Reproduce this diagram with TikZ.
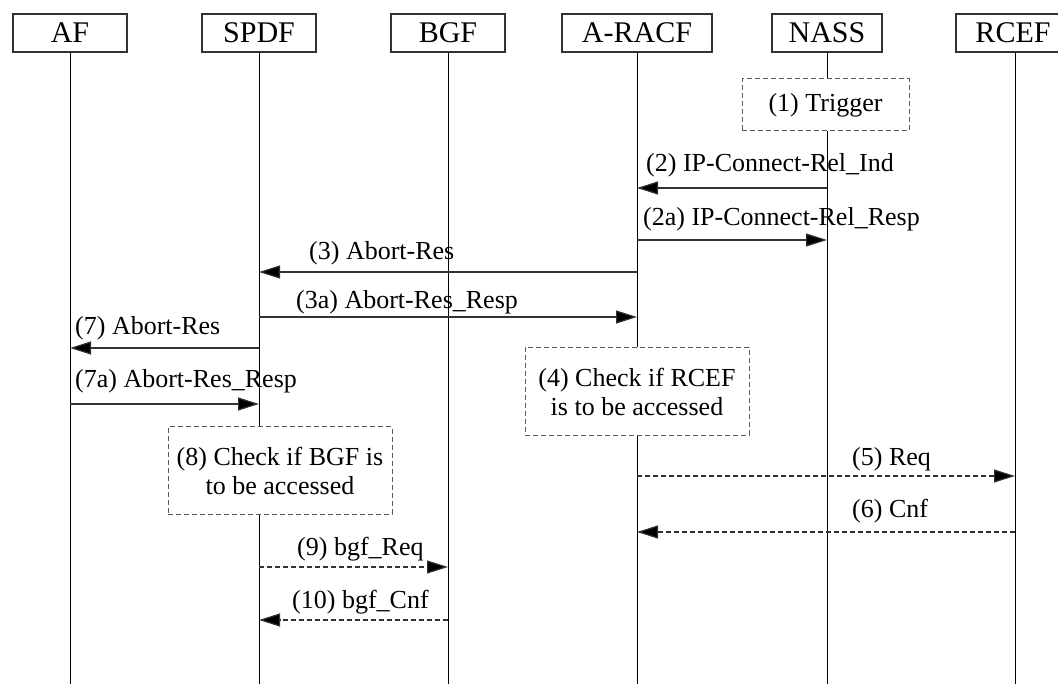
\documentclass[tikz,border=0pt]{standalone}
\usepackage{fontspec}
\setmainfont{Liberation Serif}
\usetikzlibrary{arrows.meta, positioning}
\definecolor{linegray}{RGB}{50, 50, 50}
\definecolor{boxgray}{RGB}{90, 90, 90}

\begin{document}
\begin{tikzpicture}[x=1pt, y=-1pt,
    hdr/.style={rectangle, draw=linegray, line width=1.2pt, minimum width=114pt, minimum height=38pt, inner sep=0pt, font=\fontsize{30}{32}\selectfont},
    note/.style={rectangle, draw=boxgray, dash pattern=on 5pt off 3pt, line width=1pt, fill=white, inner sep=0pt, align=center, font=\fontsize{26}{29}\selectfont},
    life/.style={draw=black, line width=1pt},
    msg/.style={draw=linegray, line width=1.2pt, -{Triangle[length=21pt, width=13pt, fill=black]}},
    dmsg/.style={msg, dash pattern=on 5pt off 3pt},
    lbl/.style={inner sep=0pt, anchor=base west, font=\fontsize{26}{29}\selectfont}]
    \useasboundingbox (0,0) rectangle (1058,684);
    \clip (0,0) rectangle (1058,684);

    % entities
    \node[hdr] (AF) at (70,33) {AF};
    \node[hdr] (SPDF) at (259,33) {SPDF};
    \node[hdr] (BGF) at (448,33) {BGF};
    \node[hdr, minimum width=150pt] (ARACF) at (637,33) {A-RACF};
    \node[hdr, minimum width=110pt] (NASS) at (827,33) {NASS};
    \node[hdr] (RCEF) at (1013,33) {RCEF};

    % lifelines
    \foreach \n in {AF, SPDF, BGF, ARACF, NASS} {
        \coordinate (\n-end) at (\n |- 0,690);
        \draw[life] (\n.south) -- (\n-end);
    }
    \coordinate (RCEF-end) at (1015,690);
    \draw[life] (RCEF.south -| RCEF-end) -- (RCEF-end);
    \coordinate (RCEF-l) at (1015,0);

    % local steps
    \node[note, minimum width=167pt, minimum height=52pt] (trig) at (825.5,105) {(1) Trigger};
    \node[note, minimum width=224pt, minimum height=88pt] (chk4) at (637,391.5) {(4) Check if RCEF\\is to be accessed};
    \node[note, minimum width=224pt, minimum height=87pt] (chk8) at (280,470.5) {(8) Check if BGF is\\to be accessed};

    % release from NASS
    \draw[msg] (NASS |- 0,188) -- (ARACF |- 0,188);
    \node[lbl] (m2) at (646,172) {(2) IP-Connect-Rel\_Ind};
    \draw[msg] (ARACF |- 0,240) -- (NASS |- 0,240);
    \node[lbl] (m2a) at (643,226) {(2a) IP-Connect-Rel\_Resp};

    % abort towards SPDF and AF
    \draw[msg] (ARACF |- 0,272) -- (SPDF |- 0,272);
    \node[lbl] (m3) at (309,260) {(3) Abort-Res};
    \draw[msg] (SPDF |- 0,317) -- (ARACF |- 0,317);
    \node[lbl] (m3a) at (296,309) {(3a) Abort-Res\_Resp};
    \draw[msg] (SPDF |- 0,348) -- (AF |- 0,348);
    \node[lbl] (m7) at (75,335) {(7) Abort-Res};
    \draw[msg] (AF |- 0,404) -- (SPDF |- 0,404);
    \node[lbl] (m7a) at (75,388) {(7a) Abort-Res\_Resp};

    % RCEF
    \draw[dmsg] (ARACF |- 0,476) -- (RCEF-l |- 0,476);
    \node[lbl] (m5) at (852,466) {(5) Req};
    \draw[dmsg] (RCEF-l |- 0,532) -- (ARACF |- 0,532);
    \node[lbl] (m6) at (852,518) {(6) Cnf};

    % BGF
    \draw[dmsg] (SPDF |- 0,567) -- (BGF |- 0,567);
    \node[lbl] (m9) at (297,555) {(9) bgf\_Req};
    \draw[dmsg] (BGF |- 0,620) -- (SPDF |- 0,620);
    \node[lbl] (m10) at (292,608) {(10) bgf\_Cnf};
\end{tikzpicture}
\end{document}
